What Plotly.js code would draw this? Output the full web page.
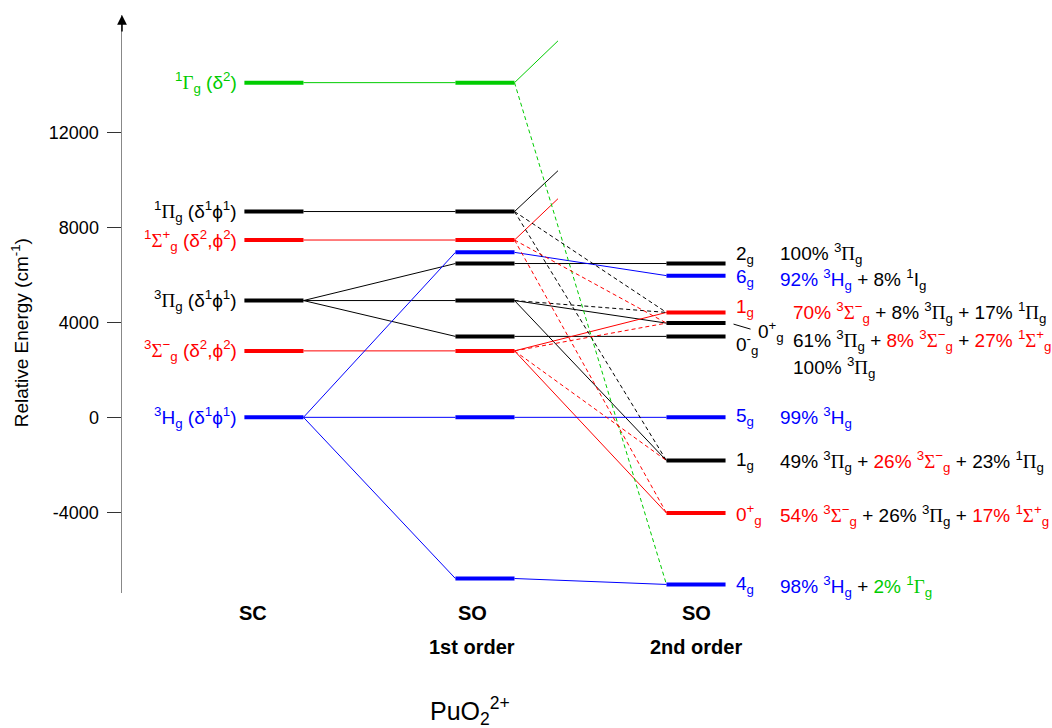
<!DOCTYPE html>
<html><head><meta charset="utf-8">
<script src="https://cdn.plot.ly/plotly-3.0.1.min.js"></script>
<style>html,body{margin:0;padding:0;background:#fff}</style>
</head><body><div id="chart" style="width:1052px;height:728px"></div>
<script>
// ---------------- DATA ----------------
// Spin-free (SC) states
const scTerms    = ['1Gamma', '1Pi', '1SigmaPlus', '3Pi', '3SigmaMinus', '3H'];
const scConfigs  = ['δ<sup>2</sup>', 'δ<sup>1</sup>ϕ<sup>1</sup>', 'δ<sup>2</sup>,ϕ<sup>2</sup>', 'δ<sup>1</sup>ϕ<sup>1</sup>', 'δ<sup>2</sup>,ϕ<sup>2</sup>', 'δ<sup>1</sup>ϕ<sup>1</sup>'];
const scEnergy   = [14100, 8670, 7470, 4920, 2800, 0];

// First-order spin-orbit levels
const so1Terms   = ['1Gamma', '1Pi', '1SigmaPlus', '3H', '3Pi', '3Pi', '3Pi', '3SigmaMinus', '3H', '3H'];
const so1Energy  = [14100, 8670, 7470, 6950, 6480, 4920, 3410, 2800, 0, -6790];

// Second-order spin-orbit levels
const so2Omega   = ['2', '6', '1', '0<sup>+</sup>', '0<sup>-</sup>', '5', '1', '0<sup>+</sup>', '4'];
const so2Terms   = ['3Pi', '3H', '3SigmaMinus', '3Pi', '3Pi', '3H', '3Pi', '3SigmaMinus', '3H'];
const so2Energy  = [6480, 5970, 4420, 3970, 3410, 0, -1820, -4030, -7040];
const so2Composition = [
  [[100, '3Pi']],
  [[92, '3H'], [8, '1I']],
  [[70, '3SigmaMinus'], [8, '3Pi'], [17, '1Pi']],
  [[61, '3Pi'], [8, '3SigmaMinus'], [27, '1SigmaPlus']],
  [[100, '3Pi']],
  [[99, '3H']],
  [[49, '3Pi'], [26, '3SigmaMinus'], [23, '1Pi']],
  [[54, '3SigmaMinus'], [26, '3Pi'], [17, '1SigmaPlus']],
  [[98, '3H'], [2, '1Gamma']]
];

// Correlations (index pairs)
const scToSo1       = [[0,0],[1,1],[2,2],[3,4],[3,5],[3,6],[4,7],[5,3],[5,8],[5,9]];
const so1ToSo2Main  = [[4,0],[3,1],[7,2],[5,3],[6,4],[8,5],[5,6],[7,7],[9,8]];
const so1ToSo2Minor = [[0,8],[1,2],[1,6],[2,3],[2,7],[5,2],[7,3],[7,6]];
const so1ToHigher   = [[0,15860],[1,10390],[2,9210]];   // [so1 index, energy of off-chart partner]

const yTicks = [-4000, 0, 4000, 8000, 12000];
const columnTitles = ['SC', 'SO', 'SO'];
const columnSubtitles = ['', '1st order', '2nd order'];

// ---------------- STYLE ----------------
const GREEN = '#00cc00', RED = '#ff0000', BLUE = '#0000ff', BLACK = '#000000';
const termColor = {'1Gamma': GREEN, '1Pi': BLACK, '1SigmaPlus': RED, '3Pi': BLACK, '3SigmaMinus': RED, '3H': BLUE, '1I': BLACK};
const G = s => '<span style="font-family:Liberation Serif">' + s + '</span>';
const termLabel = {
  '1Gamma': '<sup>1</sup>' + G('Γ') + '<sub>g</sub>',
  '1Pi': '<sup>1</sup>' + G('Π') + '<sub>g</sub>',
  '1SigmaPlus': '<sup>1</sup>' + G('Σ') + '<sup>+</sup><sub>g</sub>',
  '3Pi': '<sup>3</sup>' + G('Π') + '<sub>g</sub>',
  '3SigmaMinus': '<sup>3</sup>' + G('Σ') + '<sup>−</sup><sub>g</sub>',
  '3H': '<sup>3</sup>H<sub>g</sub>',
  '1I': '<sup>1</sup>I<sub>g</sub>'
};
const colX = [1, 2, 3];      // column centres
const halfW = 0.14;          // half bar width
const higherX = 2.346;       // end of lines to off-chart states
const barWidth = 4;
const FONT = 'Liberation Sans, Arial, Helvetica, sans-serif';
const LABEL_SIZE = 19;

// ---------------- BUILD ----------------
const traces = [];
function addSegments(segs, color, dash, width) {
  const x = [], y = [];
  segs.forEach(s => { x.push(s[0], s[2], null); y.push(s[1], s[3], null); });
  traces.push({type: 'scatter', mode: 'lines', x, y, hoverinfo: 'skip',
    line: {color, width, dash}});
}
function groupByColor(items) {
  const m = {};
  items.forEach(it => { (m[it.color] = m[it.color] || []).push(it.seg); });
  return m;
}
// connecting lines
let items = [];
scToSo1.forEach(([a, b]) => items.push({color: termColor[scTerms[a]],
  seg: [colX[0] + halfW, scEnergy[a], colX[1] - halfW, so1Energy[b]]}));
so1ToSo2Main.forEach(([a, b]) => items.push({color: termColor[so1Terms[a]],
  seg: [colX[1] + halfW, so1Energy[a], colX[2] - halfW, so2Energy[b]]}));
so1ToHigher.forEach(([a, e]) => items.push({color: termColor[so1Terms[a]],
  seg: [colX[1] + halfW, so1Energy[a], higherX, e]}));
let g = groupByColor(items);
Object.keys(g).forEach(c => addSegments(g[c], c, 'solid', 1));

items = [];
so1ToSo2Minor.forEach(([a, b]) => items.push({color: termColor[so1Terms[a]],
  seg: [colX[1] + halfW, so1Energy[a], colX[2] - halfW, so2Energy[b]]}));
g = groupByColor(items);
Object.keys(g).forEach(c => addSegments(g[c], c, '4px,3px', 1));

// level bars
items = [];
scEnergy.forEach((e, i) => items.push({color: termColor[scTerms[i]], seg: [colX[0] - halfW, e, colX[0] + halfW, e]}));
so1Energy.forEach((e, i) => items.push({color: termColor[so1Terms[i]], seg: [colX[1] - halfW, e, colX[1] + halfW, e]}));
so2Energy.forEach((e, i) => items.push({color: termColor[so2Terms[i]], seg: [colX[2] - halfW, e, colX[2] + halfW, e]}));
g = groupByColor(items);
Object.keys(g).forEach(c => addSegments(g[c], c, 'solid', barWidth));

// annotations
const ann = [];
// SC labels
scEnergy.forEach((e, i) => ann.push({x: colX[0] - halfW, y: e, xref: 'x', yref: 'y',
  xanchor: 'right', yanchor: 'middle', xshift: -5, yshift: 0, showarrow: false,
  text: termLabel[scTerms[i]] + ' (' + scConfigs[i] + ')',
  font: {size: LABEL_SIZE, color: termColor[scTerms[i]], family: FONT}}));

// SO2 level labels
const omegaShift = [[8, 9], [8, -2], [8, 4], [30, -8], [8, -8], [8, 0], [8, 0], [8, -1], [8, -1]];
so2Energy.forEach((e, i) => ann.push({x: colX[2] + halfW, y: e, xref: 'x', yref: 'y',
  xanchor: 'left', yanchor: 'middle', xshift: omegaShift[i][0], yshift: omegaShift[i][1], showarrow: false,
  text: so2Omega[i] + '<sub>g</sub>', font: {size: LABEL_SIZE, color: termColor[so2Terms[i]], family: FONT}}));

// compositions
const compShift = [[52, 10], [52, -4], [65, 0], [65, -17], [65, -31], [52, 0], [52, -1], [52, -2], [52, -2]];
so2Composition.forEach((comp, i) => {
  const txt = comp.map(([p, t]) => '<span style="color:' + termColor[t] + '">' + p + '% ' + termLabel[t] + '</span>').join(' + ');
  ann.push({x: colX[2] + halfW, y: so2Energy[i], xref: 'x', yref: 'y', xanchor: 'left', yanchor: 'middle',
    xshift: compShift[i][0], yshift: compShift[i][1], showarrow: false, text: txt,
    font: {size: LABEL_SIZE, color: BLACK, family: FONT}});
});

// column titles
const titleX = [0.9, 1.94, 3.0];
columnTitles.forEach((t, i) => {
  ann.push({x: titleX[i], y: -0.034, xref: 'x', yref: 'paper', yanchor: 'middle', showarrow: false,
    text: '<b>' + t + '</b>', font: {size: 20, family: FONT, color: BLACK}});
  if (columnSubtitles[i]) ann.push({x: titleX[i], y: -0.093, xref: 'x', yref: 'paper', yanchor: 'middle', showarrow: false,
    text: '<b>' + columnSubtitles[i] + '</b>', font: {size: 20, family: FONT, color: BLACK}});
});
// main title (bottom)
ann.push({x: 0.374, y: -0.205, xref: 'paper', yref: 'paper', yanchor: 'middle', showarrow: false,
  text: 'PuO<sub>2</sub><sup>2+</sup>', font: {size: 25, family: FONT, color: BLACK}});
// y-axis title
ann.push({x: -0.1097, y: 0.451, xref: 'paper', yref: 'paper', xanchor: 'center', yanchor: 'middle', showarrow: false,
  textangle: -90, text: 'Relative Energy (cm<sup>-1</sup>)', font: {size: 19, family: FONT, color: BLACK}});
// axis arrowhead
ann.push({x: 0.28, y: 16950, xref: 'x', yref: 'y', ax: 0, ay: 18, axref: 'pixel', ayref: 'pixel',
  showarrow: true, arrowhead: 2, arrowsize: 1.3, arrowwidth: 1.5, arrowcolor: BLACK, text: ''});

// connector for the shifted 0+ label
const shapes = [{type: 'line', xref: 'x', yref: 'y', xsizemode: 'pixel', ysizemode: 'pixel',
  xanchor: colX[2] + halfW, yanchor: so2Energy[3], x0: 8, x1: 25, y0: -1, y1: -6,
  line: {color: BLACK, width: 1}}];

const layout = {
  width: 1052, height: 728,
  margin: {l: 122, r: 0, t: 15, b: 135},
  paper_bgcolor: '#fff', plot_bgcolor: '#fff',
  showlegend: false,
  font: {family: FONT, size: 18, color: BLACK},
  xaxis: {range: [0.28, 4.687], visible: false, fixedrange: true},
  yaxis: {range: [-7400, 16950], showline: true, linecolor: '#888', linewidth: 1.5,
    ticks: 'outside', ticklen: 14, tickwidth: 1, tickcolor: '#333',
    tickvals: yTicks, ticktext: yTicks.map(String), tickfont: {size: 18, family: FONT, color: BLACK},
    showgrid: false, zeroline: false, fixedrange: true, ticklabelstandoff: 4},
  annotations: ann,
  shapes: shapes
};

Plotly.newPlot('chart', traces, layout, {displayModeBar: false, staticPlot: true});
</script>
</body></html>
